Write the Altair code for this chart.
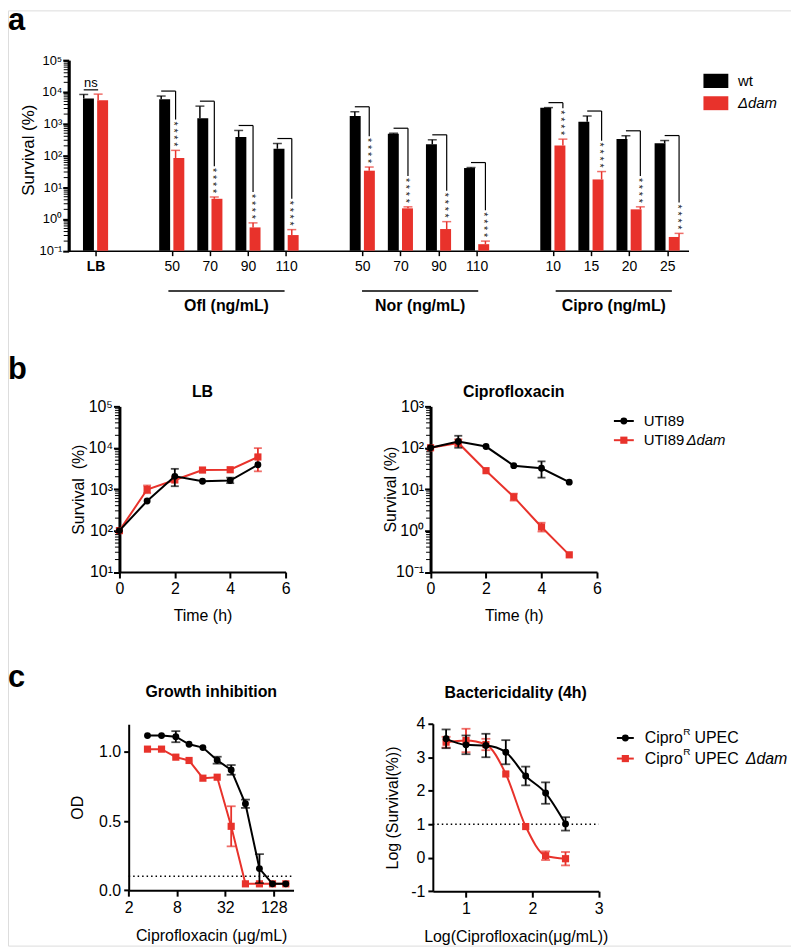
import altair as alt
import pandas as pd

FONT = "Liberation Sans"
RED = "#e8322b"
BLK = "#000000"
M = 8
W, H = 787, 940


def P(v):
    return v - M


# ---------------- panel a data ----------------
a_cats = ["LB", "Ofl 50", "Ofl 70", "Ofl 90", "Ofl 110", "Nor 50", "Nor 70", "Nor 90", "Nor 110",
          "Cipro 10", "Cipro 15", "Cipro 20", "Cipro 25"]
a_ticks = ["LB", "50", "70", "90", "110", "50", "70", "90", "110", "10", "15", "20", "25"]
a_wt = [6200, 5900, 1480, 380, 162, 1740, 480, 223, 40, 3160, 1150, 330, 240]
a_wt_err = [8300, 7400, 3560, 610, 237, 2370, 500, 310, 41.5, 3200, 1740, 415, 294]
a_dam = [5500, 83, 4.3, 0.54, 0.31, 33, 2.15, 0.48, 0.16, 206, 17.5, 2.0, 0.27]
a_dam_err = [8500, 144, 4.9, 0.75, 0.46, 43, 2.4, 0.82, 0.2, 325, 31, 2.4, 0.35]
a_sig = ["ns"] + ["****"] * 12
a_groups = ["Ofl (ng/mL)", "Nor (ng/mL)", "Cipro (ng/mL)"]

# ---------------- panel b data ----------------
b_t = [0, 1, 2, 3, 4, 5]
b_lb_wt = [100, 520, 2040, 1560, 1620, 3900]
b_lb_wt_lo = [None, None, 1180, None, 1400, None]
b_lb_wt_hi = [None, None, 3100, None, 1900, None]
b_lb_dam = [100, 980, 1670, 2900, 2950, 6000]
b_lb_dam_lo = [None, 800, None, None, None, 2700]
b_lb_dam_hi = [None, 1230, None, None, None, 9800]

b_cp_wt = [100, 142, 107, 37, 32, 14.8]
b_cp_wt_lo = [None, 100, None, None, 19, None]
b_cp_wt_hi = [None, 195, None, None, 47, None]
b_cp_dam = [100, 131, 28, 6.5, 1.22, 0.26]
b_cp_dam_lo = [None, 110, None, 5.3, 0.95, None]
b_cp_dam_hi = [None, 160, None, 7.8, 1.55, None]

# ---------------- panel c data ----------------
c_conc = [3.43, 5.13, 7.73, 11.3, 16.8, 25.3, 37.8, 56.9, 85.0, 123.6, 181]
c_gi_wt = [1.118, 1.118, 1.11, 1.055, 1.031, 0.94, 0.87, 0.625, 0.156, 0.046, 0.046]
c_gi_wt_sd = [None, None, 0.04, None, None, 0.025, 0.035, 0.03, 0.105, None, None]
c_gi_dam = [1.02, 1.02, 0.962, 0.938, 0.81, 0.817, 0.462, 0.046, 0.046, 0.046, 0.046]
c_gi_dam_sd = [None, None, None, None, None, None, 0.145, None, None, None, None]

c_logc = [0.7, 1.0, 1.3, 1.6, 1.9, 2.2, 2.5]
c_bc_wt = [3.55, 3.37, 3.35, 3.15, 2.44, 1.93, 1.01]
c_bc_wt_sd = [0.28, 0.28, 0.35, 0.36, 0.28, 0.32, 0.2]
c_bc_dam = [3.45, 3.5, 3.38, 2.5, 0.93, 0.06, -0.03]
c_bc_dam_sd = [0.16, 0.35, 0.17, None, None, 0.13, 0.2]

SUP = "['\u207b\u00b9','\u2070','\u00b9','\u00b2','\u00b3','\u2074','\u2075']"
LOG_LABEL = "'10' + " + SUP + "[round(log(datum.value)/LN10) + 1]"

LAYERS = []


def add(*charts):
    LAYERS.extend(charts)


def axis(orient, offset, **kw):
    d = dict(orient=orient, offset=offset, grid=False, domainColor=BLK, tickColor=BLK,
             labelColor=BLK, titleColor=BLK, labelFont=FONT, titleFont=FONT,
             titleFontWeight="normal", labelFontSize=16, titleFontSize=16,
             domainWidth=2, tickWidth=2, tickSize=6, labelPadding=3,
             labelFlush=False, labelOverlap=False)
    d.update(kw)
    return alt.Axis(**d)


def text(t, x, y, size=16, weight="normal", style="normal", align="left", baseline="middle", color=BLK):
    return alt.Chart(pd.DataFrame({"t": [t]})).mark_text(
        font=FONT, fontSize=size, fontWeight=weight, fontStyle=style, align=align,
        baseline=baseline, color=color).encode(x=alt.value(P(x)), y=alt.value(P(y)), text="t:N")


def rect(x1, x2, y1, y2, color):
    return alt.Chart(pd.DataFrame({"a": [0]})).mark_rect(color=color).encode(
        x=alt.value(P(x1)), x2=alt.value(P(x2)), y=alt.value(P(y1)), y2=alt.value(P(y2)))


def hline(x1, x2, y, color, width=2):
    return alt.Chart(pd.DataFrame({"a": [0]})).mark_rule(color=color, strokeWidth=width).encode(
        x=alt.value(P(x1)), x2=alt.value(P(x2)), y=alt.value(P(y)))


def point(x, y, color, shape, size):
    return alt.Chart(pd.DataFrame({"a": [0]})).mark_point(
        filled=True, opacity=1, color=color, shape=shape, size=size).encode(
        x=alt.value(P(x)), y=alt.value(P(y)))


def minor_ticks(values, ys, x_axis, length):
    return alt.Chart(pd.DataFrame({"v": values})).mark_rule(color=BLK, strokeWidth=1).encode(
        y=alt.Y("v:Q", scale=ys, axis=None),
        x=alt.value(P(x_axis) - length), x2=alt.value(P(x_axis)))


# ======================= PANEL A =======================
slots = [0] + [2 + 5 * g + k for g in range(3) for k in range(4)]
DODGE = 0.186
rows = []
for i in range(len(a_cats)):
    rows.append(dict(cat=a_cats[i], ser="wt", pos=slots[i] - DODGE, val=a_wt[i], err=a_wt_err[i], base=0.1))
    rows.append(dict(cat=a_cats[i], ser="dam", pos=slots[i] + DODGE, val=a_dam[i], err=a_dam_err[i], base=0.1))
dfa = pd.DataFrame(rows)
dfa_wt = dfa[dfa.ser == "wt"]
dfa_dam = dfa[dfa.ser == "dam"]

xs_a = alt.Scale(domain=[-0.6, 15.43], range=[P(68), P(692)], nice=False, zero=False)
ys_a = alt.Scale(type="log", domain=[0.1, 1e5], range=[P(249.5), P(58)], nice=False)
PXD_A = (249.5 - 58) / 6.0

lab_arr = [""] * 16
for s, t in zip(slots, a_ticks):
    lab_arr[s] = t
ax_a_x = axis("bottom", P(249.5) - H, values=slots,
              labelExpr="[" + ",".join("'" + t + "'" for t in lab_arr) + "][datum.value]",
              labelFontSize=14, domainWidth=1.5, tickWidth=1.5, tickSize=5, labelPadding=4, title=None,
              labelFontWeight=alt.condition("datum.value == 0", alt.value("bold"), alt.value("normal")))
ax_a_y = axis("left", -P(69), values=[0.1, 1, 10, 100, 1000, 1e4, 1e5], labelExpr=LOG_LABEL,
              labelFontSize=13, domainWidth=3.2, tickWidth=2, tickSize=6, labelPadding=1,
              title="Survival (%)", titleFontSize=17, titleX=29 - 69, titleY=P(148),
              titleBaseline="middle", titleAlign="center")


def xa(f, ax=None):
    return alt.X(f, scale=xs_a, axis=ax)


def ya(f, ax=None):
    return alt.Y(f, scale=ys_a, axis=ax)


add(
    alt.Chart(dfa_wt).mark_bar(width=11, color=BLK).encode(x=xa("pos:Q", ax_a_x), y=ya("val:Q", ax_a_y), y2="base:Q"),
    alt.Chart(dfa_dam).mark_bar(width=11, color=RED).encode(x=xa("pos:Q"), y=ya("val:Q"), y2="base:Q"),
)
for d, c in ((dfa_wt, BLK), (dfa_dam, RED)):
    add(
        alt.Chart(d).mark_rule(strokeWidth=1.5, color=c).encode(x=xa("pos:Q"), y=ya("val:Q"), y2="err:Q"),
        alt.Chart(d).mark_tick(orient="horizontal", size=9, thickness=1.5, color=c).encode(x=xa("pos:Q"), y=ya("err:Q")),
    )

br, st = [], []
for i in range(len(a_cats)):
    if a_sig[i] != "****":
        continue
    top = a_wt_err[i] * 10 ** (5 / PXD_A)
    bottom = a_dam_err[i] * 10 ** (31 / PXD_A)
    br.append(dict(x1=slots[i] - DODGE, x2=slots[i] + DODGE, top=top, bottom=bottom))
    st.append(dict(x=slots[i] + DODGE, y=a_dam_err[i] * 10 ** (4 / PXD_A), s=" ".join(a_sig[i])))
dfbr = pd.DataFrame(br)
dfst = pd.DataFrame(st)
add(
    alt.Chart(dfbr).mark_rule(color=BLK, strokeWidth=1.2).encode(x=xa("x1:Q"), x2="x2:Q", y=ya("top:Q")),
    alt.Chart(dfbr).mark_rule(color=BLK, strokeWidth=1.2).encode(x=xa("x2:Q"), y=ya("top:Q"), y2="bottom:Q"),
    alt.Chart(dfst).mark_text(font=FONT, fontSize=10.5, color="#222", angle=90, align="right",
                              baseline="middle", dy=2.5).encode(x=xa("x:Q"), y=ya("y:Q"), text="s:N"),
)

ns_y = max(a_wt_err[0], a_dam_err[0]) * 10 ** (4.3 / PXD_A)
dfns = pd.DataFrame([dict(x1=slots[0] - DODGE, x2=slots[0] + DODGE, xm=slots[0], y=ns_y, t=a_sig[0])])
dfg = pd.DataFrame([dict(x1=slots[1 + 4 * g], x2=slots[4 + 4 * g],
                         xm=(slots[1 + 4 * g] + slots[4 + 4 * g]) / 2, t=a_groups[g]) for g in range(3)])
add(
    alt.Chart(dfns).mark_rule(color=BLK, strokeWidth=1.2).encode(x=xa("x1:Q"), x2="x2:Q", y=ya("y:Q")),
    alt.Chart(dfns).mark_text(font=FONT, fontSize=13, baseline="alphabetic", dy=-3).encode(
        x=xa("xm:Q"), y=ya("y:Q"), text="t:N"),
    alt.Chart(dfg).mark_rule(color=BLK, strokeWidth=1.5).encode(x=xa("x1:Q"), x2="x2:Q", y=alt.value(P(290))),
    alt.Chart(dfg).mark_text(font=FONT, fontSize=16, fontWeight="bold", baseline="alphabetic").encode(
        x=xa("xm:Q"), y=alt.value(P(310)), text="t:N"),
    minor_ticks([m * 10 ** k for k in range(-1, 5) for m in range(2, 10)], ys_a, 69, 5),
)


# ======================= PANELS B/C helpers =======================
def series_layers(x, y, lo, hi, ser, xs, ys, axx=None, axy=None, interp="linear", cap=8):
    color = BLK if ser == "wt" else RED
    shape = "circle" if ser == "wt" else "square"
    size = 48 if ser == "wt" else 52
    df = pd.DataFrame({"x": x, "y": y, "lo": lo, "hi": hi})
    dfe = df.dropna()

    def X(ax=None):
        return alt.X("x:Q", scale=xs, axis=ax)

    out = [alt.Chart(df).mark_line(color=color, strokeWidth=2, interpolate=interp).encode(
        x=X(axx), y=alt.Y("y:Q", scale=ys, axis=axy))]
    if len(dfe):
        out.append(alt.Chart(dfe).mark_rule(color=color, strokeWidth=1.8).encode(
            x=X(), y=alt.Y("lo:Q", scale=ys, axis=None), y2="hi:Q"))
        for f in ("lo", "hi"):
            out.append(alt.Chart(dfe).mark_tick(orient="horizontal", size=cap, thickness=1.8, color=color).encode(
                x=X(), y=alt.Y(f + ":Q", scale=ys, axis=None)))
    out.append(alt.Chart(df).mark_point(filled=True, opacity=1, color=color, shape=shape, size=size).encode(
        x=X(), y=alt.Y("y:Q", scale=ys, axis=None)))
    return out


def sd_bounds(vals, sds):
    lo = [None if s is None else v - s for v, s in zip(vals, sds)]
    hi = [None if s is None else v + s for v, s in zip(vals, sds)]
    return lo, hi


# ======================= PANEL B =======================
xs_b1 = alt.Scale(domain=[0, 6], range=[P(120), P(287)], nice=False, zero=False)
ys_b1 = alt.Scale(type="log", domain=[10, 1e5], range=[P(572.5), P(406)], nice=False)
xs_b2 = alt.Scale(domain=[0, 6], range=[P(432.7), P(600)], nice=False, zero=False)
ys_b2 = alt.Scale(type="log", domain=[0.1, 1e3], range=[P(572.5), P(406)], nice=False)

ax_b1x = axis("bottom", P(572.5) - H, values=[0, 2, 4, 6], title="Time (h)", titlePadding=11)
ax_b1y = axis("left", -P(120), values=[10, 100, 1000, 1e4, 1e5], labelExpr=LOG_LABEL, domainWidth=3,
              labelPadding=1, title="Survival\u00a0\u00a0(%)", titlePadding=1)
ax_b2x = axis("bottom", P(572.5) - H, values=[0, 2, 4, 6], title="Time (h)", titlePadding=11)
ax_b2y = axis("left", -P(432.7), values=[0.1, 1, 10, 100, 1000], labelExpr=LOG_LABEL, domainWidth=3,
              labelPadding=1, title="Survival (%)", titlePadding=-3)

add(*series_layers(b_t, b_lb_dam, b_lb_dam_lo, b_lb_dam_hi, "dam", xs_b1, ys_b1, ax_b1x, ax_b1y))
add(*series_layers(b_t, b_lb_wt, b_lb_wt_lo, b_lb_wt_hi, "wt", xs_b1, ys_b1))
add(minor_ticks([m * 10 ** k for k in range(1, 5) for m in range(2, 10)], ys_b1, 120, 4.5))
add(*series_layers(b_t, b_cp_dam, b_cp_dam_lo, b_cp_dam_hi, "dam", xs_b2, ys_b2, ax_b2x, ax_b2y))
add(*series_layers(b_t, b_cp_wt, b_cp_wt_lo, b_cp_wt_hi, "wt", xs_b2, ys_b2))
add(minor_ticks([m * 10 ** k for k in range(-1, 3) for m in range(2, 10)], ys_b2, 432.7, 4.5))

# ======================= PANEL C =======================
xs_c1 = alt.Scale(type="log", base=2, domain=[2, 226], range=[P(129.3), P(295)], nice=False)
ys_c1 = alt.Scale(domain=[0, 1.2], range=[P(892.3), P(725.5)], nice=False, zero=False)
xs_c2 = alt.Scale(domain=[0.5, 3], range=[P(435), P(601.7)], nice=False, zero=False)
ys_c2 = alt.Scale(domain=[-1, 4], range=[P(893.3), P(725)], nice=False, zero=False)

ax_c1x = axis("bottom", P(892.3) - H, values=[2, 8, 32, 128], format="d",
              title="Ciprofloxacin (\u03bcg/mL)", titlePadding=13)
ax_c1y = axis("left", -P(129.3), values=[0, 0.5, 1.0], format=".1f", tickSize=5,
              title="OD", titlePadding=13)
ax_c2x = axis("bottom", P(893.3) - H, values=[1, 2, 3], format="d",
              title="Log(Ciprofloxacin(\u03bcg/mL))", titlePadding=13)
ax_c2y = axis("left", -P(435), values=[-1, 0, 1, 2, 3, 4], labelExpr="'' + datum.value", tickSize=5,
              title="Log (Survival(%))", titlePadding=10)

gi_dam_lo, gi_dam_hi = sd_bounds(c_gi_dam, c_gi_dam_sd)
gi_wt_lo, gi_wt_hi = sd_bounds(c_gi_wt, c_gi_wt_sd)
bc_dam_lo, bc_dam_hi = sd_bounds(c_bc_dam, c_bc_dam_sd)
bc_wt_lo, bc_wt_hi = sd_bounds(c_bc_wt, c_bc_wt_sd)

add(alt.Chart(pd.DataFrame({"x1": [2], "x2": [226], "y": [0.1]})).mark_rule(
    color=BLK, strokeWidth=1.5, strokeDash=[1.5, 3]).encode(
    x=alt.X("x1:Q", scale=xs_c1, axis=None), x2="x2:Q", y=alt.Y("y:Q", scale=ys_c1, axis=None)))
add(*series_layers(c_conc, c_gi_dam, gi_dam_lo, gi_dam_hi, "dam", xs_c1, ys_c1, ax_c1x, ax_c1y, cap=9))
add(*series_layers(c_conc, c_gi_wt, gi_wt_lo, gi_wt_hi, "wt", xs_c1, ys_c1, cap=9))

add(alt.Chart(pd.DataFrame({"x1": [0.5], "x2": [3], "y": [1]})).mark_rule(
    color=BLK, strokeWidth=1.5, strokeDash=[1.5, 3]).encode(
    x=alt.X("x1:Q", scale=xs_c2, axis=None), x2="x2:Q", y=alt.Y("y:Q", scale=ys_c2, axis=None)))
add(*series_layers(c_logc, c_bc_dam, bc_dam_lo, bc_dam_hi, "dam", xs_c2, ys_c2, ax_c2x, ax_c2y,
                   interp="monotone", cap=9))
add(*series_layers(c_logc, c_bc_wt, bc_wt_lo, bc_wt_hi, "wt", xs_c2, ys_c2, interp="monotone", cap=9))

# ======================= annotations =======================
add(
    text("a", 8, 28, size=31, weight="bold", baseline="alphabetic"),
    text("b", 8, 378, size=31, weight="bold", baseline="alphabetic"),
    text("c", 8, 688, size=31, weight="bold", baseline="alphabetic"),
    rect(707, 732, 71.7, 86, BLK), text("wt", 741.7, 79, size=15),
    rect(707, 732, 94.3, 108.3, RED), text("\u0394dam", 741.7, 101, size=15, style="italic"),
    text("LB", 203.5, 396.5, weight="bold", align="center", baseline="alphabetic"),
    text("Ciprofloxacin", 516.3, 396.5, weight="bold", align="center", baseline="alphabetic"),
    text("Growth inhibition", 212.3, 698, weight="bold", align="center", baseline="alphabetic"),
    text("Bactericidality (4h)", 518.3, 699, weight="bold", align="center", baseline="alphabetic"),
    hline(617, 637, 420.7, BLK), point(627, 420.7, BLK, "circle", 48), text("UTI89", 647, 420.7, size=15),
    hline(617, 637, 440, RED), point(627, 440, RED, "square", 52), text("UTI89", 647, 440, size=15),
    text("\u0394dam", 690, 440, size=15, style="italic"),
    hline(620, 637, 739.3, BLK), point(628.5, 739.3, BLK, "circle", 48),
    text("Cipro", 648, 739.3, size=16), text("R", 686.8, 733, size=10), text("UPEC", 698, 739.3, size=16),
    hline(620, 637, 760, RED), point(628.5, 760, RED, "square", 52),
    text("Cipro", 648, 760, size=16), text("R", 686.8, 753.7, size=10), text("UPEC", 698, 760, size=16),
    text("\u0394dam", 749.5, 760, size=16, style="italic"),
)

chart = alt.layer(*LAYERS).resolve_scale(
    x="independent", y="independent").resolve_axis(x="independent", y="independent").properties(
    width=W, height=H, autosize=alt.AutoSizeParams(type="none"), padding=0
).configure_view(strokeWidth=0).configure(font=FONT)

chart.save("out.html", embed_options={"renderer": "svg", "actions": False})
